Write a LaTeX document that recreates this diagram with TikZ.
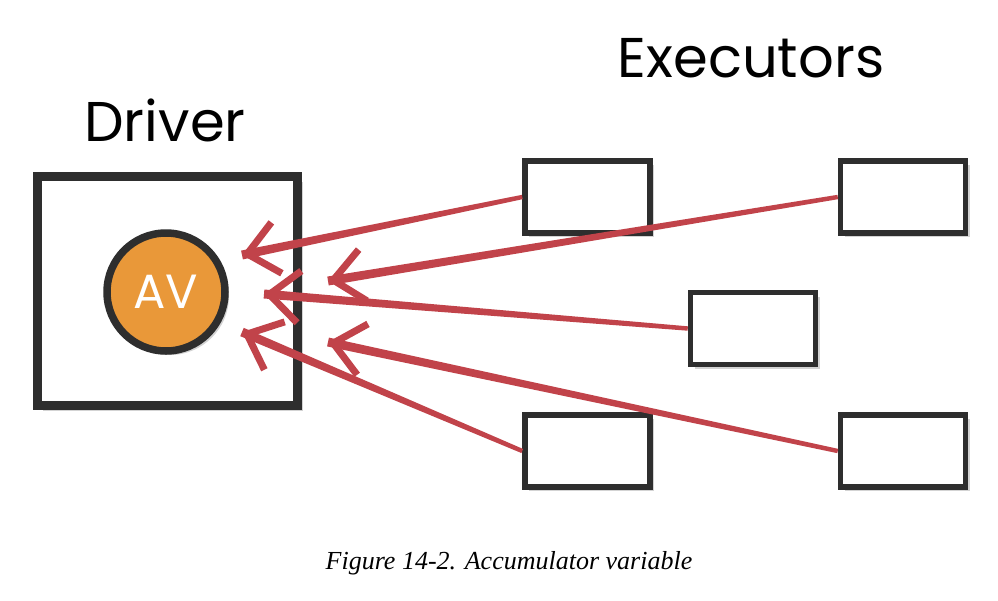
\documentclass[tikz,border=0pt]{standalone}
\usepackage{fontspec}
\setmainfont{Liberation Serif}
\newfontfamily\handfont{Poppins}
\usetikzlibrary{arrows.meta,shadows,calc}
\definecolor{avorange}{HTML}{E99839}
\definecolor{accred}{HTML}{C1434A}
\definecolor{inkgray}{HTML}{2E2E2E}
\begin{document}
\begin{tikzpicture}[x=1pt, y=-1pt,
  exbox/.style={draw=inkgray, line width=5.5pt, fill=white, minimum width=125pt, minimum height=72pt,
    drop shadow={opacity=0.35, shadow xshift=4pt, shadow yshift=-4pt}},
  update/.style={draw=accred, line width=7pt, -{Straight Barb[length=30pt, width=52pt]}}]
  \useasboundingbox (0,0) rectangle (998,600);

  % Driver with the accumulator variable
  \node[draw=inkgray, line width=9pt, fill=white, minimum width=260pt, minimum height=229pt,
    drop shadow={opacity=0.35, shadow xshift=5pt, shadow yshift=-5pt}] (driver) at (167.5,291) {};
  \node[font=\handfont\fontsize{56}{60}\selectfont] (driverlabel) at (165,120) {Driver};
  \node[circle, draw=inkgray, line width=7.5pt, fill=avorange, minimum size=118pt, text=white,
    font=\handfont\fontsize{48}{50}\selectfont,
    drop shadow={opacity=0.35, shadow xshift=4pt, shadow yshift=-4pt}] (av) at (166,292) {AV};

  % Executors
  \node[font=\handfont\fontsize{56}{60}\selectfont] (exlabel) at (751,58) {Executors};
  \node[exbox] (e1) at (587.5,197) {};
  \node[exbox] (e2) at (903,197) {};
  \node[exbox] (e3) at (753,328.5) {};
  \node[exbox] (e4) at (587.5,451) {};
  \node[exbox] (e5) at (903,451) {};

  % Arrow tips next to AV
  \coordinate (t1) at (242,255);
  \coordinate (t2) at (328,281);
  \coordinate (t3) at (264,294);
  \coordinate (t4) at (242,332);
  \coordinate (t5) at (328,342);

  % tapered strokes, thin at the executor end
  \foreach \e/\t in {e1/t1, e2/t2, e3/t3, e4/t4, e5/t5} {
    \fill[accred] ($(\e.west)!2.2pt!90:(\t)$) -- ($(\t)!4.5pt!-90:(\e.west)$)
      -- ($(\t)!4.5pt!90:(\e.west)$) -- ($(\e.west)!2.2pt!-90:(\t)$) -- cycle;
    \draw[update] ($(\t)!20pt!(\e.west)$) -- (\t);
  }

  % Caption
  \node[font=\itshape\fontsize{26}{30}\selectfont] (caption) at (509,563) {Figure 14-2. Accumulator variable};
\end{tikzpicture}
\end{document}
